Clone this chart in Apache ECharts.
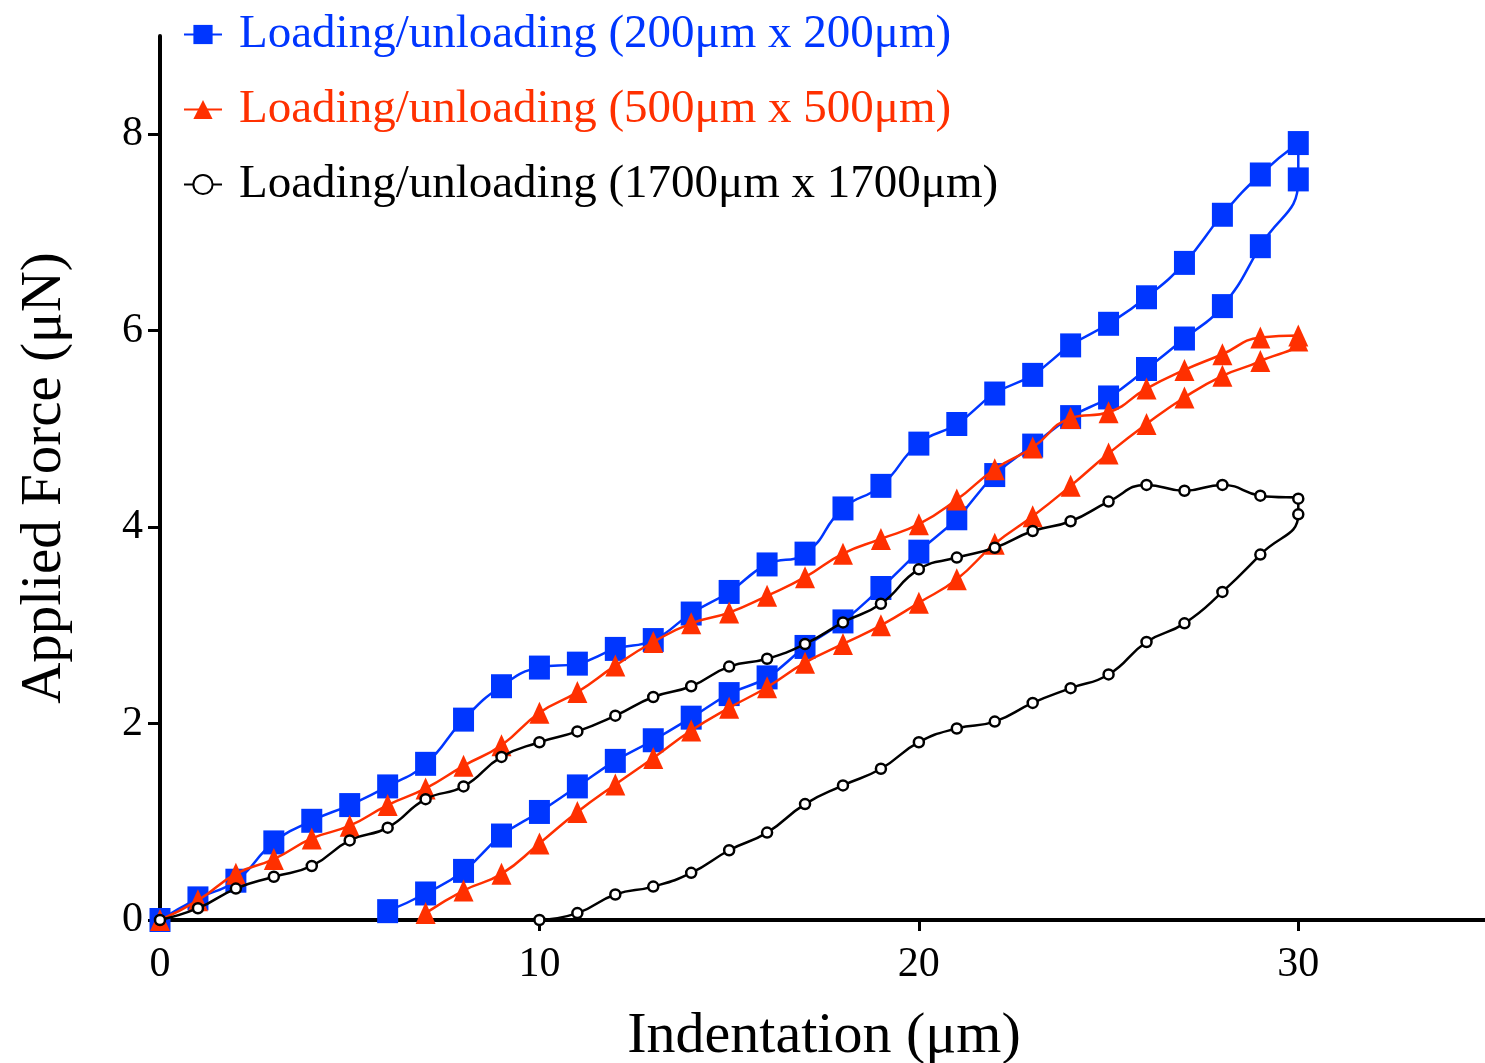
<!DOCTYPE html>
<html>
<head>
<meta charset="utf-8">
<script src="https://cdn.jsdelivr.net/npm/echarts@6/dist/echarts.min.js"></script>
<style>
  html, body { margin: 0; padding: 0; background: #fff; }
  #container { width: 1485px; height: 1063px; }
</style>
</head>
<body>
<div id="container"></div>
<script>
// indentation steps (um)
var loadX = [0,1,2,3,4,5,6,7,8,9,10,11,12,13,14,15,16,17,18,19,20,21,22,23,24,25,26,27,28,29,30];

// 200um x 200um
var blueLoad = [0,0.22,0.40,0.79,1.01,1.17,1.36,1.59,2.04,2.38,2.57,2.61,2.76,2.85,3.12,3.34,3.62,3.73,4.19,4.42,4.85,5.05,5.36,5.55,5.85,6.07,6.34,6.69,7.18,7.59,7.91];
var blueUnloadX = [30,29,28,27,26,25,24,23,22,21,20,19,18,17,16,15,14,13,12,11,10,9,8,7,6];
var blueUnload = [7.54,6.86,6.25,5.92,5.61,5.32,5.12,4.83,4.53,4.09,3.75,3.38,3.04,2.78,2.47,2.30,2.06,1.83,1.62,1.36,1.10,0.86,0.50,0.27,0.09];

// 500um x 500um
var redLoad = [0,0.20,0.47,0.62,0.83,0.96,1.17,1.34,1.57,1.78,2.11,2.32,2.59,2.83,3.02,3.13,3.30,3.49,3.73,3.88,4.03,4.28,4.59,4.81,5.11,5.17,5.41,5.60,5.76,5.93,5.95];
var redUnloadX = [30,29,28,27,26,25,24,23,22,21,20,19,18,17,16,15,14,13,12,11,10,9,8,7];
var redUnload = [5.90,5.69,5.54,5.32,5.05,4.75,4.42,4.11,3.83,3.47,3.23,3.00,2.81,2.62,2.37,2.16,1.93,1.65,1.38,1.10,0.78,0.47,0.30,0.07];

// 1700um x 1700um
var blackLoad = [0,0.12,0.32,0.44,0.55,0.81,0.94,1.23,1.36,1.66,1.81,1.92,2.08,2.27,2.38,2.58,2.66,2.81,3.03,3.22,3.57,3.69,3.79,3.96,4.06,4.26,4.43,4.37,4.43,4.32,4.29];
var blackUnloadX = [30,29,28,27,26,25,24,23,22,21,20,19,18,17,16,15,14,13,12,11,10];
var blackUnload = [4.13,3.72,3.34,3.02,2.83,2.50,2.36,2.21,2.02,1.95,1.81,1.54,1.37,1.18,0.89,0.71,0.48,0.34,0.26,0.07,0.00];

var names = [
  "Loading/unloading (200μm x 200μm)",
  "Loading/unloading (500μm x 500μm)",
  "Loading/unloading (1700μm x 1700μm)"
];
var xTicks = [0, 10, 20, 30];
var yTicks = [0, 2, 4, 6, 8];

// loading branch followed by unloading branch -> one hysteresis loop
function loop(load, unloadX, unload) {
  var pts = loadX.map(function (x, i) { return [x, load[i]]; });
  unloadX.forEach(function (x, i) { pts.push([x, unload[i]]); });
  return pts;
}

var font = "'Liberation Serif', 'Times New Roman', serif";
var blue = "#0036ff", red = "#ff3000", black = "#000000";

var option = {
  animation: false,
  backgroundColor: "#fff",
  legend: {
    orient: "vertical",
    left: 178,
    top: 6,
    itemWidth: 38,
    itemHeight: 24,
    itemGap: 28,
    textStyle: {
      fontFamily: font,
      fontSize: 47,
      padding: [0, 0, 0, 12]
    },
    data: names.map(function (n, i) {
      return { name: n, textStyle: { color: [blue, red, black][i] } };
    })
  },
  grid: {
    left: 160,
    top: 36,
    width: 1328,
    height: 884,
    outerBoundsMode: "none"
  },
  xAxis: {
    type: "value",
    min: 0,
    max: 35,
    interval: 10,
    name: "Indentation (μm)",
    nameLocation: "middle",
    nameGap: 88,
    nameTextStyle: { fontFamily: font, fontSize: 58, color: "#000" },
    axisLine: { lineStyle: { color: "#000", width: 4 } },
    axisTick: { length: 11, lineStyle: { color: "#000", width: 3 }, customValues: xTicks },
    axisLabel: { fontFamily: font, fontSize: 42, color: "#000", margin: 24, customValues: xTicks },
    splitLine: { show: false }
  },
  yAxis: {
    type: "value",
    min: 0,
    max: 9,
    interval: 1,
    name: "Applied Force (μN)",
    nameLocation: "middle",
    nameGap: 86,
    nameTextStyle: { fontFamily: font, fontSize: 57, color: "#000" },
    axisLine: { show: true, lineStyle: { color: "#000", width: 4 } },
    axisTick: { show: true, length: 12, lineStyle: { color: "#000", width: 3 }, customValues: yTicks },
    axisLabel: { fontFamily: font, fontSize: 42, color: "#000", margin: 17, customValues: yTicks },
    splitLine: { show: false }
  },
  series: [
    {
      name: names[0],
      type: "line",
      data: loop(blueLoad, blueUnloadX, blueUnload),
      smooth: 0.5,
      symbol: "rect",
      symbolSize: [21, 24],
      itemStyle: { color: blue },
      lineStyle: { color: blue, width: 2.5 },
      z: 3
    },
    {
      name: names[1],
      type: "line",
      data: loop(redLoad, redUnloadX, redUnload),
      smooth: 0.5,
      symbol: "triangle",
      symbolSize: [20, 22],
      itemStyle: { color: red },
      lineStyle: { color: red, width: 2.5 },
      z: 4
    },
    {
      name: names[2],
      type: "line",
      data: loop(blackLoad, blackUnloadX, blackUnload),
      smooth: 0.5,
      symbol: "circle",
      symbolSize: 10,
      itemStyle: { color: "#fff", borderColor: black, borderWidth: 2.5 },
      lineStyle: { color: black, width: 2.5 },
      z: 5
    }
  ]
};

var myChart = echarts.init(document.getElementById("container"));
myChart.setOption(option);
</script>
</body>
</html>
